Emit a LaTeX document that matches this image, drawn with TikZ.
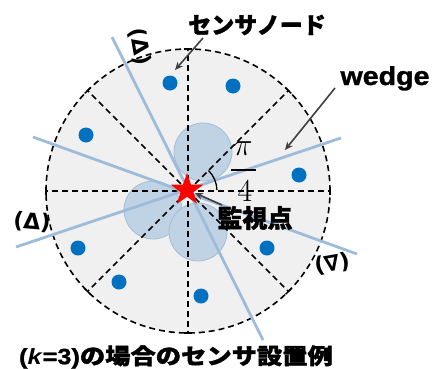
\documentclass[tikz,border=0pt]{standalone}
\usepackage{fix-cm}
\usepackage{fontspec}
\usetikzlibrary{arrows.meta,shapes.geometric}
\newfontfamily\jp{Noto Sans CJK JP}[BoldFeatures={FakeBold=1.5}]
\newfontfamily\lsans{Liberation Sans}[BoldFeatures={FakeBold=1.2}]
\newfontfamily\dvs{DejaVu Sans}
\definecolor{bgray}{HTML}{F0F0F0}
\definecolor{dotblue}{HTML}{0070C0}
\definecolor{lineblue}{HTML}{9DBCD9}
\definecolor{lobefill}{HTML}{C0D3E5}
\definecolor{lobedraw}{HTML}{A3BDD4}
\definecolor{arrgray}{HTML}{404040}
\begin{document}
\begin{tikzpicture}[x=1pt,y=1pt,
  dashline/.style={black, line width=1.5pt, dash pattern=on 6pt off 4pt},
  wedgeline/.style={lineblue, line width=2.8pt},
  lobe/.style={circle, fill=lobefill, draw=lobedraw, line width=0.8pt, inner sep=0, minimum size=58pt},
  sensor/.style={circle, fill=dotblue, inner sep=0, minimum size=15pt},
  pointer/.style={arrgray, line width=1.6pt, -{Stealth[length=8pt,width=7pt]}},
  jplabel/.style={font=\jp\bfseries, inner sep=0},
  marklabel/.style={font=\dvs\bfseries\fontsize{22}{24}\selectfont, inner sep=0},
  fraclabel/.style={font=\fontsize{20}{22}\selectfont, inner sep=0}
]
\useasboundingbox (0,0) rectangle (433,368);
\coordinate (C) at (188,177);
\fill[bgray] (C) circle (142);
\node[lobe] (lobeT) at (203,216) {};
\node[lobe] (lobeL) at (153,158) {};
\node[lobe] (lobeB) at (198,136) {};
\foreach \a in {0,45,...,315} {
  \draw[dashline] (C) -- ([shift={(\a:142)}]C);
  \draw[black, line width=1.5pt] ([shift={(\a:142)}]C) ++(\a+90:4) -- ++(\a-90:8);
}
\draw[dashline, line width=1.6pt] (C) circle (142);
% wedge lines
\coordinate (l1a) at (112,331); \coordinate (l1b) at (263,28);
\coordinate (l2a) at (33,231);  \coordinate (l2b) at (357,114);
\coordinate (l3a) at (16,121);  \coordinate (l3b) at (341,230);
\draw[wedgeline] (l1a) -- (l1b);
\draw[wedgeline] (l2a) -- (l2b);
\draw[wedgeline] (l3a) -- (l3b);
% sensors
\node[sensor] (s1) at (170,285) {};
\node[sensor] (s2) at (233,282) {};
\node[sensor] (s3) at (86,233) {};
\node[sensor] (s4) at (299,193) {};
\node[sensor] (s5) at (78,120) {};
\node[sensor] (s6) at (267,120) {};
\node[sensor] (s7) at (119,86) {};
\node[sensor] (s8) at (201,72) {};
% angle arc
\draw[black, line width=1.3pt] ([shift={(2:29)}]C) arc[start angle=2, end angle=45, radius=29];
\node[fraclabel] (pi) at (243,219) {\scalebox{1.6}{$\pi$}};
\coordinate (barL) at (231,198); \coordinate (barR) at (256,198);
\draw[black, line width=1.2pt] (barL) -- (barR);
\node[fraclabel] (four) at (245,177) {\scalebox{1.6}{$4$}};
% star
\node[star, star points=5, star point ratio=2.5, fill=red, inner sep=0, minimum size=34pt] (star) at (187,178) {};
% labels
\node[jplabel, font=\jp\bfseries\fontsize{23}{25}\selectfont] (sensorlbl) at (257,343) {センサノード};
\coordinate (sa) at (203,330); \coordinate (sb) at (175,298);
\draw[pointer] (sa) -- (sb);
\node[font=\lsans\bfseries\fontsize{26}{28}\selectfont, inner sep=0, anchor=base] (wedgelbl) at (385,283) {\scalebox{1.1}[1]{wedge}};
\coordinate (wa) at (335,280); \coordinate (wb) at (285,218);
\draw[pointer] (wa) -- (wb);
\node[jplabel, font=\jp\bfseries\fontsize{25}{27}\selectfont] (monlbl) at (255,150) {監視点};
\coordinate (ma) at (222,163); \coordinate (mb) at (195,175);
\draw[pointer] (ma) -- (mb);
\node[marklabel, rotate=-80] (mk1) at (140,321) {(Δ)};
\node[marklabel, rotate=-5] (mk2) at (32,146) {(Δ)};
\node[marklabel, rotate=10] (mk3) at (332,104) {(∇)};
\node[jplabel, font=\jp\bfseries\fontsize{22}{24}\selectfont] (caption) at (176,11) {\scalebox{1.15}[1]{{\lsans\bfseries(\textit{k}=3)}の場合のセンサ設置例}};
\end{tikzpicture}
\end{document}
